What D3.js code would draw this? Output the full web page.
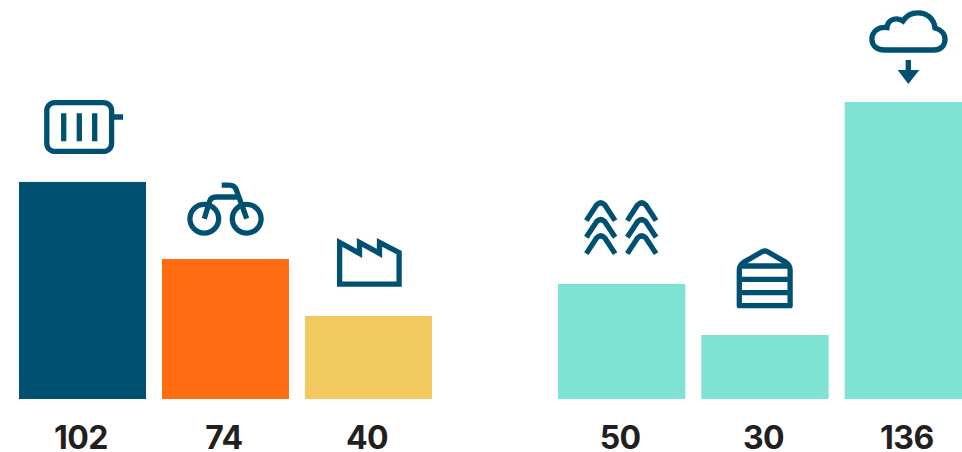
<!DOCTYPE html>
<html>
<head>
<meta charset="utf-8">
<script src="https://cdn.jsdelivr.net/npm/d3@7"></script>
<style>
html,body{margin:0;padding:0;background:#fff;overflow:hidden}
svg{display:block}
</style>
</head>
<body>
<div id="chart"></div>
<script>
const categories = ["radiator","bicycle","factory","crops","warehouse","cloud"];
const groupA = categories.slice(0,3);
const groupB = categories.slice(3);
// Printed labels
const labels = [102,74,40,50,30,136];
// Bar lengths as drawn in the picture, read against the 136 bar (they are not strictly proportional to the labels)
const barLengths = [99.4,64.1,38.0,52.7,29.3,136];
const barColors = ["#005072","#ff6c12","#f2c95f","#7ee2d5","#7ee2d5","#7ee2d5"];

const W = 962, H = 452, ink = "#005072";
const svg = d3.select("#chart").append("svg").attr("width",W).attr("height",H);

const xA = d3.scaleBand().domain(groupA).range([19,432]).paddingInner(0.112);
const xB = d3.scaleBand().domain(groupB).range([558,972]).paddingInner(0.112);
const x = c => groupA.includes(c) ? xA(c) : xB(c);
const bw = c => groupA.includes(c) ? xA.bandwidth() : xB.bandwidth();
const y = d3.scaleLinear().domain([0,136]).range([399,102]);

svg.selectAll("rect.bar").data(categories).join("rect").attr("class","bar")
  .attr("x",c=>x(c)).attr("width",c=>bw(c))
  .attr("y",(c,i)=>y(barLengths[i])).attr("height",(c,i)=>y(0)-y(barLengths[i]))
  .attr("fill",(c,i)=>barColors[i]);

svg.selectAll("text.val").data(categories).join("text").attr("class","val")
  .attr("x",c=>x(c)+bw(c)/2-1.5).attr("y",449)
  .attr("text-anchor","middle")
  .attr("font-family","Inter, Lato, sans-serif").attr("font-weight",700).attr("font-size",32)
  .attr("letter-spacing",-0.5)
  .attr("fill","#231f20").text((c,i)=>labels[i]);

const line = svg.append("g").attr("fill","none").attr("stroke",ink).attr("stroke-width",5.3);
// radiator
line.append("rect").attr("x",46.8).attr("y",102.6).attr("width",64.8).attr("height",48.8).attr("rx",8);
line.append("path").attr("d","M112 117H123M63.7 113.3V141.3M79.3 113.3V141.3M94.7 113.3V141.3");
// bicycle
[204.3,246.7].forEach(cx=>line.append("circle").attr("cx",cx).attr("cy",218.7).attr("r",14.4));
line.append("path").attr("d","M221.7 185.2H229C233 185.2 235.5 187 236.5 190.5L246.7 218.7M238.5 197H216C212.5 197 210.5 198.5 209.5 201.5L204.3 218.7");
// factory
line.append("path").attr("stroke-width",5.3).attr("stroke-linejoin","miter").attr("stroke-miterlimit",6)
  .attr("d","M339.6 284.1V242.4L359.5 253.4V242.4L379.5 253.4V242.4L399.1 252.6V284.1Z");
// crops
[600.7,641.7].forEach(cx=>[200,216.7,233].forEach(a=>{
  line.append("path").attr("d",`M${cx-14.4} ${a+20.6}L${cx-4} ${a+4.8}Q${cx} ${a+1} ${cx+4} ${a+4.8}L${cx+14.4} ${a+20.6}`);
}));
// warehouse
line.append("path").attr("stroke-linejoin","round")
  .attr("d","M739.3 305.7V270Q739.3 265 743.5 262.4L762 251.8Q764.8 250.2 767.6 251.8L786 262.4Q790.1 265 790.1 270V305.7ZM739.3 266H790.1M739.3 279.3H790.1M739.3 292.7H790.1");
// cloud
line.append("path").attr("stroke-width",5.3)
  .attr("d","M885 50H934C941 50 945 45 945 39.5C945 34 941 29.5 935 28C934 18 926 12.8 918 12.8C911 12.8 906 16 903 21C897 17 888 19 887 27.5C878 26.5 871.9 32 871.9 39C871.9 45 876 50 885 50Z");
line.append("path").attr("d","M908.3 60V72");
svg.append("path").attr("fill",ink).attr("d","M897.7 70H919.3L908.3 84Z");
</script>
</body>
</html>
